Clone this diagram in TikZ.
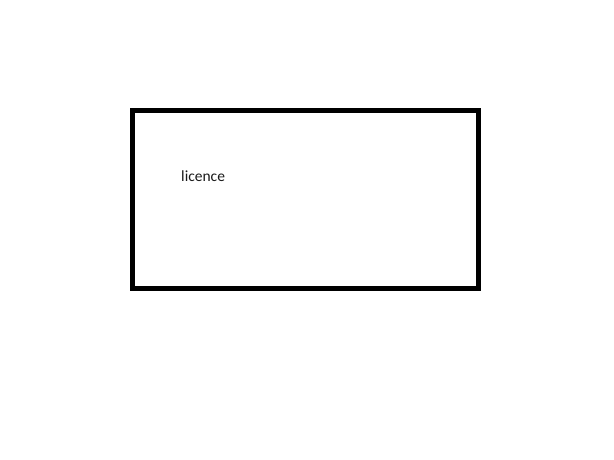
\documentclass[tikz,border=0pt]{standalone}
\usepackage{fontspec}
\setmainfont{Carlito}
\begin{document}
\begin{tikzpicture}[x=1pt,y=-1pt,
  box/.style={draw=black,line width=5pt},
  lbl/.style={inner sep=0pt,anchor=west,font=\fontsize{15.5}{18}\selectfont,text=black!90}]
\useasboundingbox[fill=white] (0,0) rectangle (614,460);
\draw[box] (132.5,110.5) rectangle (478.5,288);
\node[lbl] (t) at (181,176) {licence};
\end{tikzpicture}
\end{document}
